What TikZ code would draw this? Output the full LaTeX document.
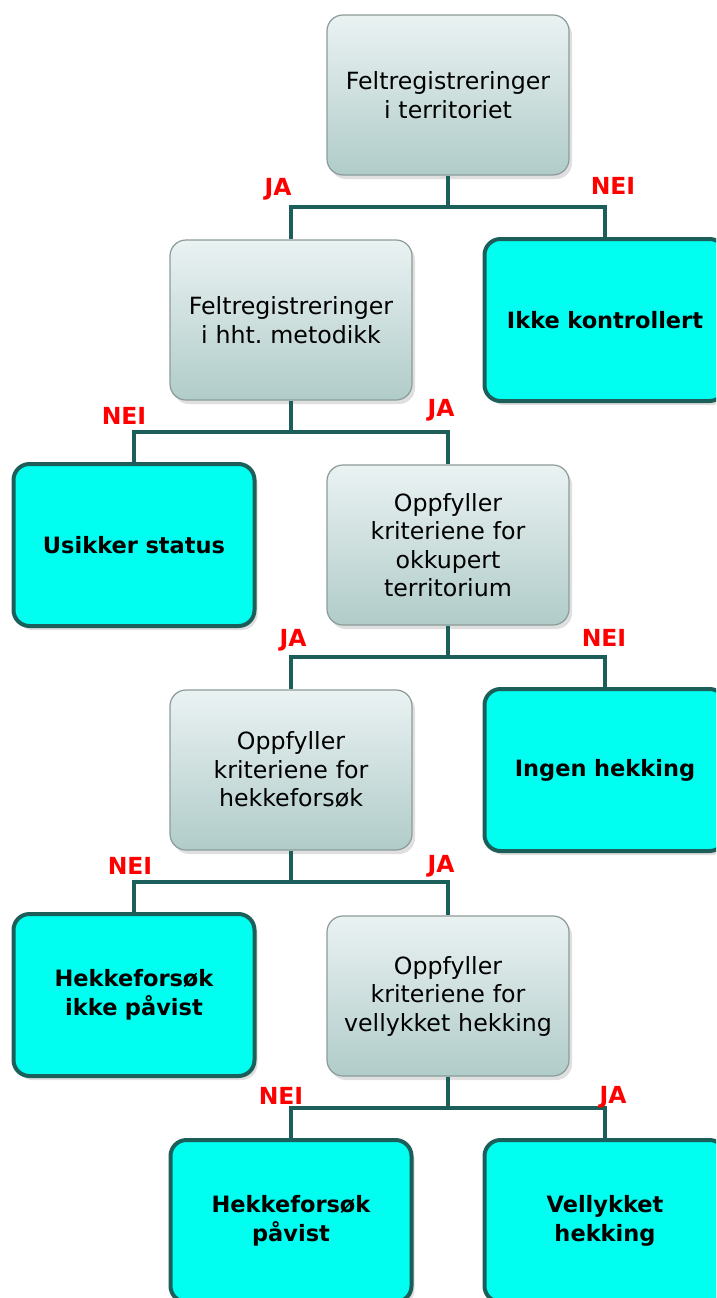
\documentclass[tikz,border=0pt]{standalone}
\usepackage{fontspec}
\setmainfont{DejaVu Sans}
\usetikzlibrary{shadows}
\frenchspacing

\definecolor{boxcyan}{RGB}{0,255,240}
\definecolor{edgeteal}{RGB}{28,94,90}
\definecolor{greytop}{RGB}{234,242,242}
\definecolor{greybot}{RGB}{176,204,201}
\definecolor{greyedge}{RGB}{140,155,154}
\definecolor{answerred}{RGB}{255,0,0}

\tikzset{
  question/.style={rectangle, rounded corners=16pt, draw=greyedge, line width=1.2pt,
    top color=greytop, bottom color=greybot,
    minimum width=242pt, minimum height=160pt, text width=232pt, align=center,
    font=\fontsize{23.7}{28.5}\selectfont,
    drop shadow={shadow xshift=3pt, shadow yshift=-4pt, opacity=0.25}},
  outcome/.style={rectangle, rounded corners=16pt, draw=edgeteal, line width=4pt,
    fill=boxcyan, minimum width=241pt, minimum height=162pt, text width=230pt, align=center,
    font=\bfseries\fontsize{22.5}{28.5}\selectfont,
    drop shadow={shadow xshift=3pt, shadow yshift=-4pt, opacity=0.25}},
  answer/.style={text=answerred, font=\bfseries\fontsize{23.5}{26}\selectfont, inner sep=0pt},
  link/.style={draw=edgeteal, line width=4.5pt}
}

\begin{document}
\begin{tikzpicture}[x=1pt,y=-1pt]
      \useasboundingbox (0,0) rectangle (716,1298);
      \clip (0,0) rectangle (716,1298);

      % boxes
      \node[question] (top) at (448,95) {Feltregistreringer\\i territoriet};
      \node[question] (metodikk) at (291,320) {Feltregistreringer\\i hht. metodikk};
      \node[outcome] (ikke) at (605,320) {Ikke kontrollert};
      \node[outcome] (usikker) at (134,545) {Usikker status};
      \node[question] (okkupert) at (448,545) {Oppfyller\\kriteriene for\\okkupert\\territorium};
      \node[question] (forsok) at (291,770) {Oppfyller\\kriteriene for\\hekkeforsøk};
      \node[outcome] (ingen) at (605,770) {Ingen hekking};
      \node[outcome] (ikkepavist) at (134,995) {Hekkeforsøk\\ikke påvist};
      \node[question] (vellykket) at (448,996) {Oppfyller\\kriteriene for\\vellykket hekking};
      \node[outcome] (pavist) at (291,1221) {Hekkeforsøk\\påvist};
      \node[outcome] (hekking) at (605,1221) {Vellykket\\hekking};

      % forks
      \coordinate (f1) at (448,207);
      \coordinate (f2) at (291,432);
      \coordinate (f3) at (448,657);
      \coordinate (f4) at (291,882);
      \coordinate (f5) at (448,1108);

      \draw[link] (top) -- (f1);
      \draw[link] (metodikk) |- (f1) -| (ikke);
      \draw[link] (metodikk) -- (f2);
      \draw[link] (usikker) |- (f2) -| (okkupert);
      \draw[link] (okkupert) -- (f3);
      \draw[link] (forsok) |- (f3) -| (ingen);
      \draw[link] (forsok) -- (f4);
      \draw[link] (ikkepavist) |- (f4) -| (vellykket);
      \draw[link] (vellykket) -- (f5);
      \draw[link] (pavist) |- (f5) -| (hekking);

      % answers
      \node[answer] (ja1) at (278,189) {JA};
      \node[answer] (nei1) at (613,186) {NEI};
      \node[answer] (nei2) at (124,416) {NEI};
      \node[answer] (ja2) at (441,410) {JA};
      \node[answer] (ja3) at (293,640) {JA};
      \node[answer] (nei3) at (604,638) {NEI};
      \node[answer] (nei4) at (130,866) {NEI};
      \node[answer] (ja4) at (441,866) {JA};
      \node[answer] (nei5) at (281,1096) {NEI};
      \node[answer] (ja5) at (613,1097) {JA};
    \end{tikzpicture}
\end{document}
